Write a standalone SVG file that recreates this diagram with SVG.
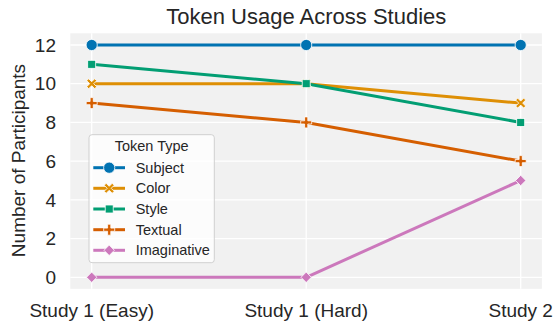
<svg xmlns="http://www.w3.org/2000/svg" xmlns:xlink="http://www.w3.org/1999/xlink" width="555" height="326" viewBox="0 0 555 326">
<style>
text{font-family:"Liberation Sans",Arial,sans-serif;fill:#262626}
.tick{font-size:19px}
.ytick{text-anchor:end}
.xtick{text-anchor:middle}
.title{font-size:22px;text-anchor:middle}
.leg{font-size:14.5px}
.grid{stroke:#ffffff;stroke-width:1.3;fill:none}
.ln{fill:none;stroke-width:3;stroke-linejoin:round;stroke-linecap:butt}
.mk{stroke:#ffffff;stroke-width:0.8}
</style>
<defs>
<circle id="m-circle" r="5.6"/>
<path id="m-x" d="M-5,-3 L-3,-5 L0,-2 L3,-5 L5,-3 L2,0 L5,3 L3,5 L0,2 L-3,5 L-5,3 L-2,0 Z"/>
<rect id="m-square" x="-4" y="-4" width="8" height="8"/>
<path id="m-plus" d="M-1.6,-5.5 L1.6,-5.5 L1.6,-1.6 L5.5,-1.6 L5.5,1.6 L1.6,1.6 L1.6,5.5 L-1.6,5.5 L-1.6,1.6 L-5.5,1.6 L-5.5,-1.6 L-1.6,-1.6 Z"/>
<path id="m-diamond" d="M0,-5.2 L5.2,0 L0,5.2 L-5.2,0 Z"/>
</defs>
<rect width="555" height="326" fill="#ffffff"/>
<g id="axes">
<rect x="70.3" y="33.3" width="471.6" height="255.5" fill="#f1f1f1"/>
<g class="grid">
<line x1="70.3" x2="541.9" y1="277.3" y2="277.3"/>
<line x1="70.3" x2="541.9" y1="238.6" y2="238.6"/>
<line x1="70.3" x2="541.9" y1="199.9" y2="199.9"/>
<line x1="70.3" x2="541.9" y1="161.1" y2="161.1"/>
<line x1="70.3" x2="541.9" y1="122.4" y2="122.4"/>
<line x1="70.3" x2="541.9" y1="83.7" y2="83.7"/>
<line x1="70.3" x2="541.9" y1="45" y2="45"/>
<line x1="91.7" x2="91.7" y1="33.3" y2="288.8"/>
<line x1="306.2" x2="306.2" y1="33.3" y2="288.8"/>
<line x1="520.7" x2="520.7" y1="33.3" y2="288.8"/>
</g>
<g class="tick ytick">
<text x="56" y="284">0</text>
<text x="56" y="245.3">2</text>
<text x="56" y="206.6">4</text>
<text x="56" y="167.8">6</text>
<text x="56" y="129.1">8</text>
<text x="56" y="90.4">10</text>
<text x="56" y="51.7">12</text>
</g>
<g class="tick xtick">
<text x="91.7" y="317.3">Study 1 (Easy)</text>
<text x="306.2" y="317.3">Study 1 (Hard)</text>
<text x="520.7" y="317.3">Study 2</text>
</g>
<text class="tick" transform="translate(24.5,160.5) rotate(-90)" text-anchor="middle">Number of Participants</text>
<text class="title" x="306.3" y="24">Token Usage Across Studies</text>
</g>
<g id="connectors">
<polyline id="line-subject" class="ln" stroke="#0173b2" points="91.7,45 306.2,45 520.7,45"/>
<polyline id="line-color" class="ln" stroke="#de8f05" points="91.7,83.7 306.2,83.7 520.7,103.1"/>
<polyline id="line-style" class="ln" stroke="#029e73" points="91.7,64.3 306.2,83.7 520.7,122.4"/>
<polyline id="line-textual" class="ln" stroke="#d55e00" points="91.7,103.1 306.2,122.4 520.7,161.1"/>
<polyline id="line-imaginative" class="ln" stroke="#cc78bc" points="91.7,277.3 306.2,277.3 520.7,180.5"/>
</g>
<g id="subject" class="mk" fill="#0173b2">
<use xlink:href="#m-circle" x="91.7" y="45"/>
<use xlink:href="#m-circle" x="306.2" y="45"/>
<use xlink:href="#m-circle" x="520.7" y="45"/>
</g>
<g id="color" class="mk" fill="#de8f05">
<use xlink:href="#m-x" x="91.7" y="83.7"/>
<use xlink:href="#m-x" x="306.2" y="83.7"/>
<use xlink:href="#m-x" x="520.7" y="103.1"/>
</g>
<g id="style" class="mk" fill="#029e73">
<use xlink:href="#m-square" x="91.7" y="64.3"/>
<use xlink:href="#m-square" x="306.2" y="83.7"/>
<use xlink:href="#m-square" x="520.7" y="122.4"/>
</g>
<g id="textual" class="mk" fill="#d55e00">
<use xlink:href="#m-plus" x="91.7" y="103.1"/>
<use xlink:href="#m-plus" x="306.2" y="122.4"/>
<use xlink:href="#m-plus" x="520.7" y="161.1"/>
</g>
<g id="imaginative" class="mk" fill="#cc78bc">
<use xlink:href="#m-diamond" x="91.7" y="277.3"/>
<use xlink:href="#m-diamond" x="306.2" y="277.3"/>
<use xlink:href="#m-diamond" x="520.7" y="180.5"/>
</g>
<g id="legend">
<rect x="89" y="134.7" width="125.3" height="128" rx="3" fill="#ffffff" fill-opacity="0.8" stroke="#cccccc" stroke-width="0.9"/>
<text class="leg" x="151.7" y="150.7" text-anchor="middle">Token Type</text>
<g class="ln">
<line x1="93.3" x2="125" y1="167.7" y2="167.7" stroke="#0173b2"/>
<line x1="93.3" x2="125" y1="188.3" y2="188.3" stroke="#de8f05"/>
<line x1="93.3" x2="125" y1="209" y2="209" stroke="#029e73"/>
<line x1="93.3" x2="125" y1="229.7" y2="229.7" stroke="#d55e00"/>
<line x1="93.3" x2="125" y1="250.3" y2="250.3" stroke="#cc78bc"/>
</g>
<g class="mk">
<use xlink:href="#m-circle" x="109.2" y="167.7" fill="#0173b2"/>
<use xlink:href="#m-x" x="109.2" y="188.3" fill="#de8f05"/>
<use xlink:href="#m-square" x="109.2" y="209" fill="#029e73"/>
<use xlink:href="#m-plus" x="109.2" y="229.7" fill="#d55e00"/>
<use xlink:href="#m-diamond" x="109.2" y="250.3" fill="#cc78bc"/>
</g>
<g class="leg">
<text x="135.7" y="172.8">Subject</text>
<text x="135.7" y="193.4">Color</text>
<text x="135.7" y="214.1">Style</text>
<text x="135.7" y="234.8">Textual</text>
<text x="135.7" y="255.4">Imaginative</text>
</g>
</g>
</svg>
